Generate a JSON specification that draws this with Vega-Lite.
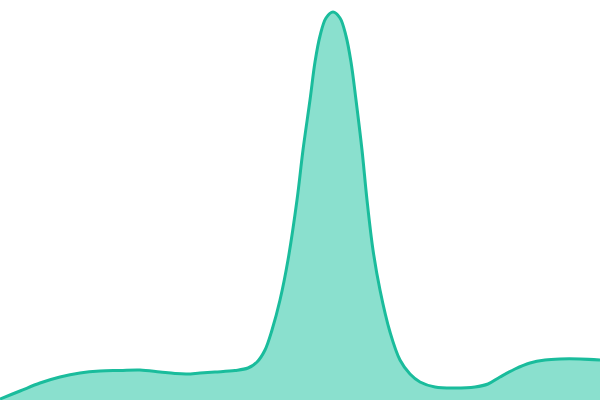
{
  "$schema": "https://vega.github.io/schema/vega-lite/v6.json",
  "width": 600,
  "height": 400,
  "autosize": {"type": "none"},
  "padding": 0,
  "config": {"view": {"stroke": null}},
  "data": {
    "values": [
      {"x": 0, "h": 1},
      {"x": 20, "h": 9},
      {"x": 40, "h": 17},
      {"x": 60, "h": 23},
      {"x": 80, "h": 27},
      {"x": 100, "h": 29},
      {"x": 120, "h": 29.5},
      {"x": 140, "h": 30},
      {"x": 160, "h": 28},
      {"x": 175, "h": 26.5},
      {"x": 187, "h": 26},
      {"x": 200, "h": 27},
      {"x": 215, "h": 28},
      {"x": 235, "h": 29.5},
      {"x": 248, "h": 32},
      {"x": 257, "h": 38},
      {"x": 265, "h": 50},
      {"x": 272, "h": 70},
      {"x": 280, "h": 100},
      {"x": 288, "h": 140},
      {"x": 297, "h": 200},
      {"x": 303, "h": 250},
      {"x": 310, "h": 300},
      {"x": 315, "h": 338},
      {"x": 320, "h": 364},
      {"x": 326, "h": 382},
      {"x": 333, "h": 388},
      {"x": 340, "h": 382},
      {"x": 346, "h": 364},
      {"x": 351, "h": 338},
      {"x": 356, "h": 300},
      {"x": 362, "h": 250},
      {"x": 367, "h": 200},
      {"x": 373, "h": 150},
      {"x": 380, "h": 110},
      {"x": 390, "h": 68},
      {"x": 400, "h": 40},
      {"x": 410, "h": 26},
      {"x": 420, "h": 18},
      {"x": 435, "h": 13},
      {"x": 455, "h": 12},
      {"x": 475, "h": 13},
      {"x": 488, "h": 16},
      {"x": 500, "h": 23},
      {"x": 515, "h": 31},
      {"x": 530, "h": 37},
      {"x": 545, "h": 40},
      {"x": 560, "h": 41},
      {"x": 580, "h": 41},
      {"x": 600, "h": 40}
    ]
  },
  "mark": {
    "type": "area",
    "interpolate": "catmull-rom",
    "color": "#8ae0ce",
    "opacity": 1,
    "line": {"color": "#1abc9c", "strokeWidth": 3}
  },
  "encoding": {
    "x": {
      "field": "x",
      "type": "quantitative",
      "axis": null,
      "scale": {"domain": [0, 600], "nice": false}
    },
    "y": {
      "field": "h",
      "type": "quantitative",
      "axis": null,
      "scale": {"domain": [0, 400], "nice": false, "zero": true}
    }
  }
}
